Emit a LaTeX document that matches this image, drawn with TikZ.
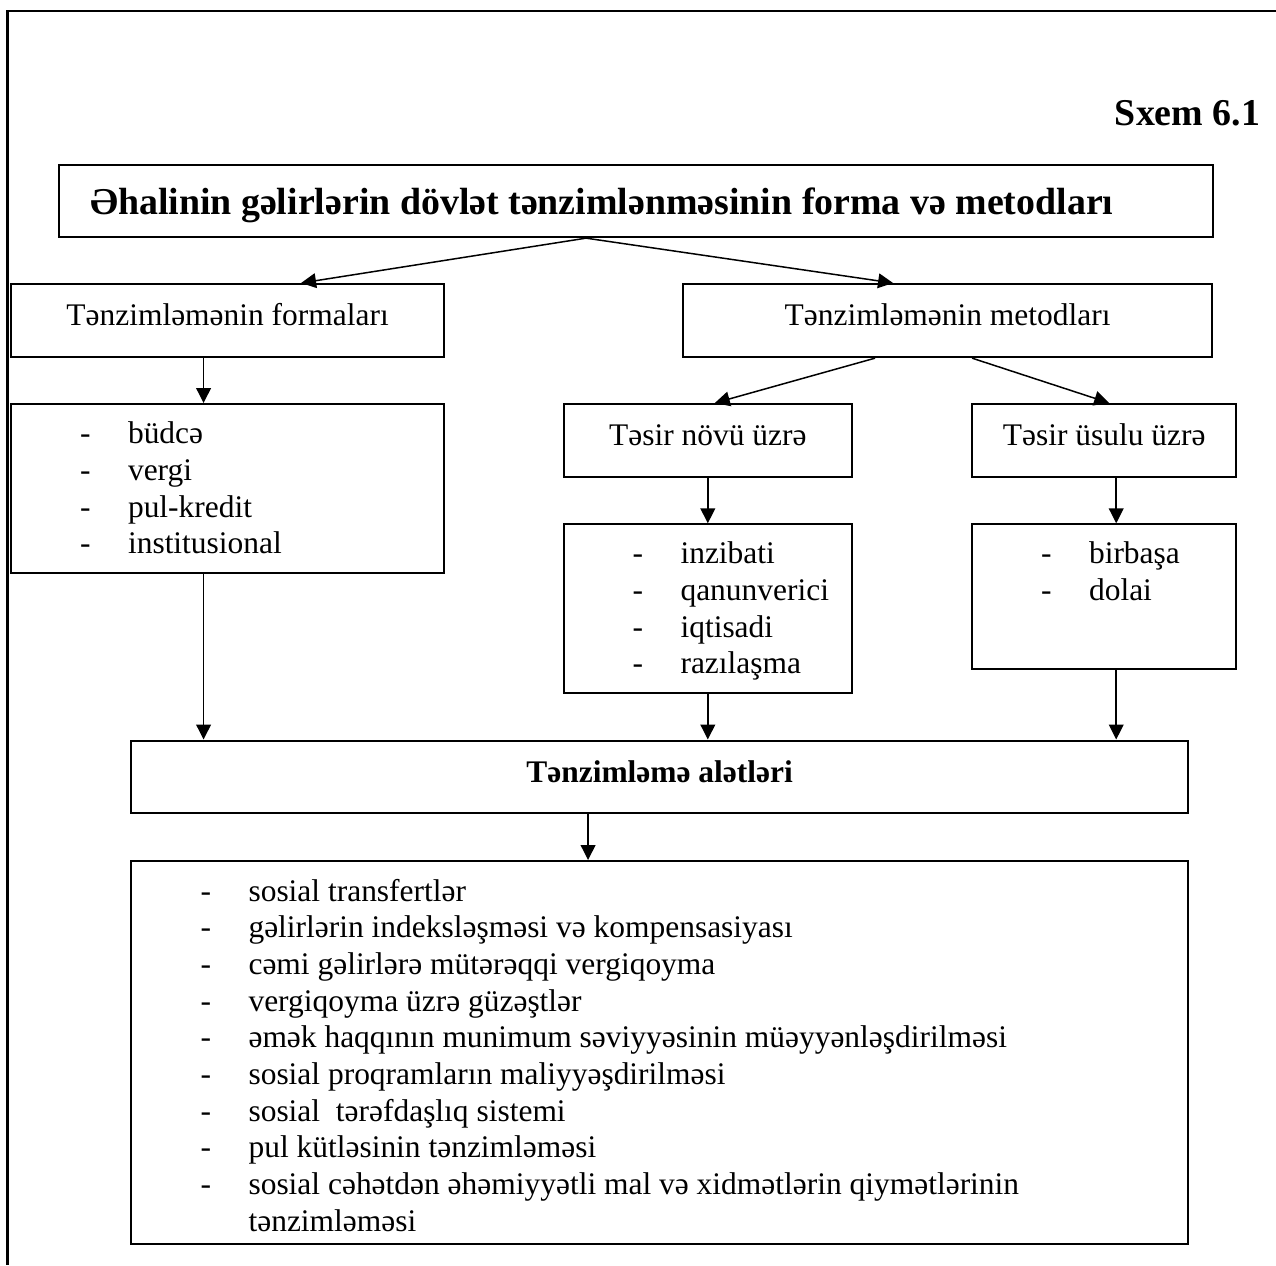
\documentclass[tikz,border=0pt]{standalone}
\usepackage{fontspec}
\setmainfont{Liberation Serif}
\usetikzlibrary{arrows.meta,calc}

\newdimen\pxu \pxu=0.4673pt
\newcommand\dashlist[1]{\begin{tabular}[t]{@{}p{48\pxu}@{}l@{}}#1\end{tabular}}

\begin{document}
\begin{tikzpicture}[x=\pxu, y=-\pxu,
    every node/.style={font=\fontsize{14.7}{17.15}\selectfont},
    box/.style={draw, line width=1pt, inner sep=0pt, anchor=north west},
    head/.style={text height=41.3\pxu, text depth=31.7\pxu},
    big/.style={font=\fontsize{17.7}{21}\selectfont\bfseries},
    arr/.style={-{Triangle[length=7pt,width=6.9pt]}, line width=.7pt}
  ]
    \useasboundingbox (0,0) rectangle (1276,1265);
    \draw[line width=1pt] (1276,11) -- (7.5,11) -- (7.5,1265);

    \node[big, anchor=base east] (sxem) at (1267.7,125) {Sxem 6.1};

    \node[box, big, text height=49.8\pxu, text depth=22.7\pxu] (title) at (58,163.5)
      {\makebox[1154\pxu][l]{\hspace*{31\pxu}Əhalinin gəlirlərin dövlət tənzimlənməsinin forma və metodları}};

    \node[box, head, minimum width=433\pxu] (forms) at (10,283) {Tənzimləmənin formaları};
    \node[box, head, minimum width=529\pxu] (meths) at (682,283) {Tənzimləmənin metodları};

    \node[box, text height=39.7\pxu, text depth=129\pxu] (fitems) at (10,403)
      {\makebox[433\pxu][l]{\hspace*{69\pxu}\dashlist{
        - & büdcə\\
        - & vergi\\
        - & pul-kredit\\
        - & institusional}}};

    \node[box, head, minimum width=288.5\pxu] (kind) at (562.5,403) {Təsir növü üzrə};
    \node[box, head, minimum width=264.3\pxu] (way) at (971,403) {Təsir üsulu üzrə};

    \node[box, text height=39.4\pxu, text depth=129\pxu] (kitems) at (562.5,523.3)
      {\makebox[288.5\pxu][l]{\hspace*{69\pxu}\dashlist{
        - & inzibati\\
        - & qanunverici\\
        - & iqtisadi\\
        - & razılaşma}}};

    \node[box, text height=39.4\pxu, text depth=105.3\pxu] (witems) at (971,523.3)
      {\makebox[264.3\pxu][l]{\hspace*{69\pxu}\dashlist{
        - & birbaşa\\
        - & dolai}}};

    \node[box, text height=42.2\pxu, text depth=30\pxu, minimum width=1057\pxu,
      font=\fontsize{14.7}{17.15}\selectfont\bfseries] (tools) at (130,739.5) {Tənzimləmə alətləri};

    \node[box, text height=40\pxu, text depth=343.3\pxu] (titems) at (130,860)
      {\makebox[1057\pxu][l]{\hspace*{69.5\pxu}\dashlist{
        - & sosial transfertlər\\
        - & gəlirlərin indeksləşməsi və kompensasiyası\\
        - & cəmi gəlirlərə mütərəqqi vergiqoyma\\
        - & vergiqoyma üzrə güzəştlər\\
        - & əmək haqqının munimum səviyyəsinin müəyyənləşdirilməsi\\
        - & sosial proqramların maliyyəşdirilməsi\\
        - & sosial\ \ tərəfdaşlıq sistemi\\
        - & pul kütləsinin tənzimləməsi\\
        - & sosial cəhətdən əhəmiyyətli mal və xidmətlərin qiymətlərinin\\
          & tənzimləməsi}}};

    % arrows
    \draw[arr] ($(title.south)+(-50,0)$) -- ($(forms.north)+(73.5,0)$);
    \draw[arr] ($(title.south)+(-50,0)$) -- ($(meths.north)+(-54.5,0)$);
    \draw[arr] ($(meths.south)+(-72.5,0)$) -- ($(kind.north)+(7,0)$);
    \draw[arr] ($(meths.south)+(24.5,0)$) -- ($(way.north)+(5,0)$);

    \draw[arr] ($(forms.south)+(-24,0)$) -- ($(fitems.north)+(-24,0)$);
    \draw[arr] (kind) -- (kitems);
    \draw[arr] ($(way.south)+(12,0)$) -- ($(witems.north)+(12,0)$);

    \draw[arr] ($(fitems.south)+(-24,0)$) coordinate (a) -- (a |- tools.north);
    \draw[arr] (kitems.south) -- (kitems.south |- tools.north);
    \draw[arr] ($(witems.south)+(12,0)$) coordinate (b) -- (b |- tools.north);
    \draw[arr] ($(tools.south)+(-71.5,0)$) -- ($(titems.north)+(-71.5,0)$);
\end{tikzpicture}
\end{document}
